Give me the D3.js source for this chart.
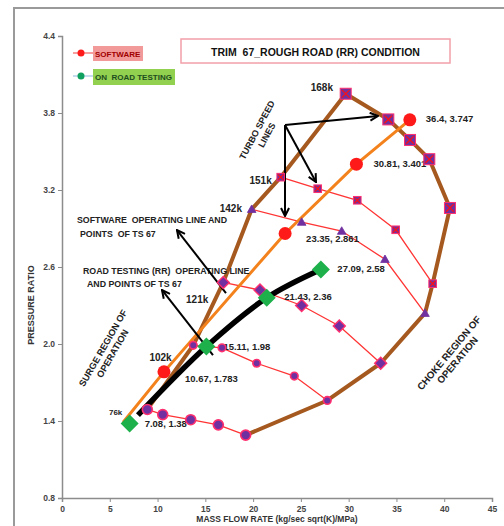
<!DOCTYPE html>
<html><head><meta charset="utf-8">
<script src="https://cdn.jsdelivr.net/npm/d3@7"></script>
<style>
body{margin:0;background:#fff;}
svg{display:block;font-family:"Liberation Sans",Arial,sans-serif;}
</style>
</head><body>
<svg id="c" width="504" height="526"></svg>
<script>
// ---------- DATA ----------
const xTicks = [0,5,10,15,20,25,30,35,40,45];
const yTicks = [0.8,1.4,2.0,2.6,3.2,3.8,4.4];
const speedNames = ["76k","102k","121k","142k","151k","168k"];
const speed76  = [[8.93,1.49],[10.54,1.45],[13.47,1.41],[16.36,1.37],[19.22,1.29]];
const speed102 = [[13.74,1.99],[16.74,1.97],[20.37,1.85],[24.31,1.75],[27.76,1.56]];
const speed121 = [[16.88,2.48],[20.72,2.42],[25.08,2.30],[29.02,2.14],[33.35,1.85]];
const speed142 = [[19.85,3.05],[25.08,2.95],[29.27,2.88],[33.80,2.66],[37.99,2.24]];
const speed151 = [[22.89,3.30],[26.76,3.21],[30.90,3.12],[34.92,2.89],[38.79,2.47]];
const speed168 = [[29.69,3.95],[34.15,3.75],[36.42,3.59],[38.44,3.44],[40.60,3.06]];
const softwareStart  = [6.4,1.39];
const softwarePoints = [[10.67,1.783],[23.35,2.861],[30.81,3.401],[36.4,3.747]];
const roadStart  = [7.95,1.445];
const roadPoints = [[7.08,1.38],[15.11,1.98],[21.43,2.36],[27.09,2.58]];
const titleText = "TRIM  67_ROUGH ROAD (RR) CONDITION";
const legendNames = ["SOFTWARE","ON  ROAD TESTING"];
const xTitle = "MASS FLOW RATE (kg/sec sqrt(K)/MPa)";
const yTitle = "PRESSURE RATIO";

// ---------- LAYOUT / STYLE ----------
const speeds = [speed76,speed102,speed121,speed142,speed151,speed168];
const speedShapes = ["circle","circle","diamond","triangle","squareX","squareX"];
const speedSizes  = [5,3.8,6,4.3,3.8,5.5];
const speedLabelOff = [[-25,6],[-21.6,16],[-15,20.7],[-9.7,3],[-9,7.3],[-12.7,-2.3]];
const softLabelOff = [[21,10],[21,8],[17,3],[16,2.5]];
const roadLabelOff = [[15,3],[17,3],[17.5,2.5],[16.5,2.5]];
const PURPLE="#7030A0", PINK="#FF2E6E", BROWN="#A5591F", ORANGE="#F3821C", RED="#FF3434";

const svg = d3.select("#c");
const x = d3.scaleLinear().domain([0,45]).range([62,492]);
const y = d3.scaleLinear().domain([0.8,4.4]).range([498,36]);

// frame
svg.append("rect").attr("x",14).attr("y",8).attr("width",600).attr("height",600)
  .attr("fill","none").attr("stroke","#9a9a9a").attr("stroke-width",2);

// defs arrow
svg.append("defs").append("marker").attr("id","ah").attr("viewBox","0 0 10 10")
  .attr("refX",9).attr("refY",5).attr("markerWidth",10).attr("markerHeight",10)
  .attr("markerUnits","userSpaceOnUse").attr("orient","auto")
  .append("path").attr("d","M1,1 L9,5 L1,9").attr("fill","none").attr("stroke","#000").attr("stroke-width",2);

// axes
const ax = svg.append("g").attr("transform","translate(0,498)")
  .call(d3.axisBottom(x).tickValues(xTicks).tickSize(4).tickPadding(4).tickFormat(d3.format("d")));
const ay = svg.append("g").attr("transform","translate(62,0)")
  .call(d3.axisLeft(y).tickValues(yTicks).tickSize(4).tickPadding(3).tickFormat(d3.format(".1f")));
[ax,ay].forEach(a=>{
  a.select(".domain").attr("stroke","#8c8c8c").attr("stroke-width",1.5);
  a.selectAll(".tick line").attr("stroke","#8c8c8c");
  a.selectAll(".tick text").attr("fill","#444").attr("font-size",8.5).attr("font-weight","bold")
    .attr("font-family","Liberation Sans, Arial, sans-serif");
});

svg.append("text").attr("transform","translate(34,305) rotate(-90)").attr("text-anchor","middle")
  .attr("font-size",9).attr("font-weight","bold").attr("fill","#333").text(yTitle);
svg.append("text").attr("x",277).attr("y",522).attr("text-anchor","middle")
  .attr("font-size",8.5).attr("font-weight","bold").attr("fill","#333").text(xTitle);

const line = d3.line().x(d=>x(d[0])).y(d=>y(d[1]));

// speed lines (thin red)
speeds.slice(0,5).forEach(s=>{
  svg.append("path").attr("d",line(s)).attr("fill","none").attr("stroke",RED).attr("stroke-width",1.3);
});
// envelope: surge + max speed + choke
const envelope = [
  speed76[0],speed102[0],speed121[0],speed142[0],speed151[0],
  ...speed168,
  speed151[4],speed142[4],speed121[4],speed102[4],speed76[4]
];
svg.append("path").attr("d",line(envelope)).attr("fill","none").attr("stroke",BROWN)
  .attr("stroke-width",4).attr("stroke-linejoin","round");

// software line
svg.append("path").attr("d",line([softwareStart,...softwarePoints])).attr("fill","none")
  .attr("stroke",ORANGE).attr("stroke-width",3);
// road testing line
svg.append("path").attr("d",d3.line().x(d=>x(d[0])).y(d=>y(d[1])).curve(d3.curveCatmullRom)([roadStart,...roadPoints.slice(1)]))
  .attr("fill","none").attr("stroke","#000").attr("stroke-width",5.5).attr("stroke-linecap","butt");

// annotations text
const T = (tx,ty,txt,size,anchor,opts={})=>{
  const t = svg.append("text").attr("x",tx).attr("y",ty).attr("font-size",size)
    .attr("font-weight","bold").attr("fill",opts.fill||"#222").attr("text-anchor",anchor||"start")
    .style("white-space","pre").text(txt);
  return t;
};
const fmt = v=>String(v);
softwarePoints.forEach((p,i)=>T(x(p[0])+softLabelOff[i][0], y(p[1])+softLabelOff[i][1], fmt(p[0])+", "+fmt(p[1]), 9.5));
roadPoints.forEach((p,i)=>T(x(p[0])+roadLabelOff[i][0], y(p[1])+roadLabelOff[i][1], fmt(p[0])+", "+fmt(p[1]), 9.5));
speeds.forEach((s,i)=>T(x(s[0][0])+speedLabelOff[i][0], y(s[0][1])+speedLabelOff[i][1], speedNames[i], i===0?8:10, "end"));

T(77,223,"SOFTWARE  OPERATING LINE AND",8.8);
T(80,237,"POINTS  OF TS 67",8.8);
T(83,274,"ROAD TESTING (RR)  OPERATING LINE",8.8);
T(87,287,"AND POINTS OF TS 67",8.8);

const rot = (cx,cy,ang,lines,size)=>{
  const g = svg.append("g").attr("transform",`translate(${cx},${cy}) rotate(${ang})`);
  lines.forEach((l,i)=>g.append("text").attr("x",0).attr("y",i*11).attr("dy","0.35em")
    .attr("text-anchor","middle").attr("font-size",size).attr("font-weight","bold").attr("fill","#222").text(l));
};
rot(257,130,-62,["TURBO SPEED","LINES"],9);
rot(103,348,-60,["SURGE REGION OF","OPERATION"],9.2);
rot(449,353,-50,["CHOKE REGION OF","OPERATION"],9.8);

// arrows (data coords)
const arrows = [
  [[23.34,3.706],[33.07,3.777]],
  [[23.34,3.706],[26.58,3.262]],
  [[23.34,3.706],[23.34,2.997]],
  [[17.16,2.397],[12.03,2.888]],
  [[15.80,1.914],[10.46,2.421]]
];
arrows.forEach(a=>{
  svg.append("line").attr("x1",x(a[0][0])).attr("y1",y(a[0][1])).attr("x2",x(a[1][0])).attr("y2",y(a[1][1]))
    .attr("stroke","#000").attr("stroke-width",2).attr("marker-end","url(#ah)");
});

// speed markers
function drawMarker(shape,cx,cy,s){
  const g = svg.append("g");
  if(shape==="circle"){
    g.append("circle").attr("cx",cx).attr("cy",cy).attr("r",s).attr("fill",PURPLE).attr("stroke",PINK).attr("stroke-width",1.6);
  } else if(shape==="diamond"){
    g.append("path").attr("d",`M${cx},${cy-s}L${cx+s},${cy}L${cx},${cy+s}L${cx-s},${cy}Z`)
      .attr("fill",PURPLE).attr("stroke",PINK).attr("stroke-width",1.4);
  } else if(shape==="triangle"){
    g.append("path").attr("d",`M${cx},${cy-s}L${cx+s},${cy+s*0.75}L${cx-s},${cy+s*0.75}Z`)
      .attr("fill",PURPLE).attr("stroke",PURPLE).attr("stroke-width",0.8);
  } else {
    g.append("rect").attr("x",cx-s).attr("y",cy-s).attr("width",2*s).attr("height",2*s)
      .attr("fill",PURPLE).attr("stroke",PINK).attr("stroke-width",1);
    g.append("path").attr("d",`M${cx-s*0.7},${cy-s*0.7}L${cx+s*0.7},${cy+s*0.7}M${cx+s*0.7},${cy-s*0.7}L${cx-s*0.7},${cy+s*0.7}`)
      .attr("stroke","#FF1010").attr("stroke-width",1.3);
  }
}
speeds.forEach((s,i)=>s.forEach(p=>drawMarker(speedShapes[i],x(p[0]),y(p[1]),speedSizes[i])));

// software points
softwarePoints.forEach(p=>svg.append("circle").attr("cx",x(p[0])).attr("cy",y(p[1])).attr("r",6.5).attr("fill","#FF1A1A"));
// road points
roadPoints.forEach(p=>{
  const cx=x(p[0]),cy=y(p[1]),s=9;
  svg.append("path").attr("d",`M${cx},${cy-s}L${cx+s},${cy}L${cx},${cy+s}L${cx-s},${cy}Z`).attr("fill","#1DB04B");
});

// legend
svg.append("line").attr("x1",73).attr("x2",93).attr("y1",53).attr("y2",53).attr("stroke","#F04040").attr("stroke-width",1);
svg.append("circle").attr("cx",81).attr("cy",53).attr("r",3.5).attr("fill","#FF1A1A");
svg.append("rect").attr("x",93).attr("y",46).attr("width",50).attr("height",15).attr("fill","#F29A9A");
T(95,57,legendNames[0],8,"start",{fill:"#A00000"});
svg.append("line").attr("x1",73).attr("x2",93).attr("y1",76).attr("y2",76).attr("stroke","#8DB8DC").attr("stroke-width",1);
svg.append("circle").attr("cx",81).attr("cy",76).attr("r",3.5).attr("fill","#10A060");
svg.append("rect").attr("x",93).attr("y",69).attr("width",82).attr("height",16).attr("fill","#92D050");
T(95,80,legendNames[1],8,"start",{fill:"#1E4D1E"});

// title box
svg.append("rect").attr("x",181).attr("y",39).attr("width",269).attr("height",24)
  .attr("fill","#fff").attr("stroke","#F2A0A8").attr("stroke-width",1.5);
T(315.5,56,titleText,10.5,"middle",{fill:"#111"});
</script>
</body></html>
